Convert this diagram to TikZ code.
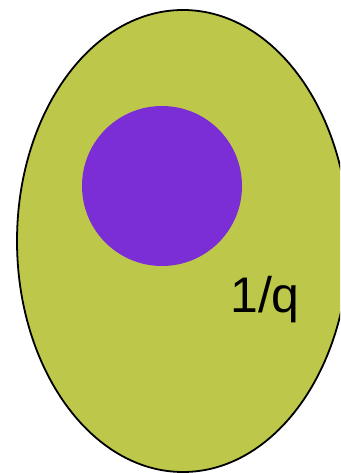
\documentclass[tikz,border=0pt]{standalone}
\usepackage{fontspec}
\setmainfont{Liberation Sans}
\definecolor{olive}{RGB}{189,200,74}
\definecolor{violet}{RGB}{123,45,214}
\begin{document}
\begin{tikzpicture}[x=1pt,y=-1pt]
\useasboundingbox (0,0) rectangle (340,473);
\begin{scope}
\clip (0,0) rectangle (340,473);
\draw[fill=olive,line width=1.8pt] (183,241) ellipse [x radius=166, y radius=231];
\end{scope}
\fill[violet] (162,186) circle [radius=80];
\node[anchor=base west,inner sep=0pt,font=\fontsize{50}{60}\selectfont] (lbl) at (230,312) {1/q};
\end{tikzpicture}
\end{document}
